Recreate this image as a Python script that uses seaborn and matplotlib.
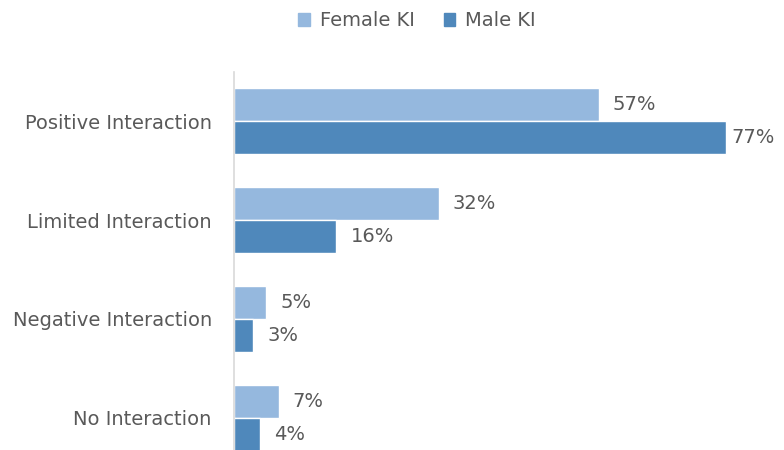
import pandas as pd
import numpy as np
import matplotlib.pyplot as plt
import seaborn as sns

categories = ['Positive Interaction', 'Limited Interaction', 'Negative Interaction', 'No Interaction']
female_ki = [57, 32, 5, 7]
male_ki = [77, 16, 3, 4]
series_names = ['Female KI', 'Male KI']

df = pd.DataFrame({
    'Category': categories * 2,
    'Value': female_ki + male_ki,
    'Group': [series_names[0]] * 4 + [series_names[1]] * 4,
})

sns.set_style('white')
plt.rcParams['font.family'] = ['DejaVu Sans']
text_color = '#595959'
fs = 14

fig = plt.figure(figsize=(7.84, 4.5), dpi=100)
ax = fig.add_axes([234 / 784, 1 - 467 / 450, 1 - 234 / 784, (467 - 72) / 450])

sns.barplot(data=df, y='Category', x='Value', hue='Group', orient='h',
            palette=['#95B8DE', '#4F88BB'], width=0.667, saturation=1,
            ax=ax, legend=False)

ax.set_xlim(0, 86)
ax.set_xlabel('')
ax.set_ylabel('')
ax.set_xticks([])
ax.tick_params(axis='y', length=0, pad=16, labelsize=fs, labelcolor=text_color)
for side in ['top', 'right', 'bottom']:
    ax.spines[side].set_visible(False)
ax.spines['left'].set_color('#D9D9D9')
ax.spines['left'].set_linewidth(1.2)

# value labels
for container in ax.containers:
    for bar in container:
        v = bar.get_width()
        y = bar.get_y() + bar.get_height() / 2
        ax.text(min(v + 2.2, 77.7), y, f'{v:.0f}%', va='center', ha='left',
                fontsize=fs, color=text_color, clip_on=False)

handles = [plt.Rectangle((0, 0), 1, 1, color=c) for c in ['#95B8DE', '#4F88BB']]
fig.legend(handles, series_names, loc='center', bbox_to_anchor=(417 / 784, 1 - 21 / 450),
           ncol=2, frameon=False, fontsize=fs, labelcolor=text_color,
           handlelength=0.6, handleheight=0.6, handletextpad=0.5, columnspacing=1.5)

plt.savefig('out.png', dpi=100)
